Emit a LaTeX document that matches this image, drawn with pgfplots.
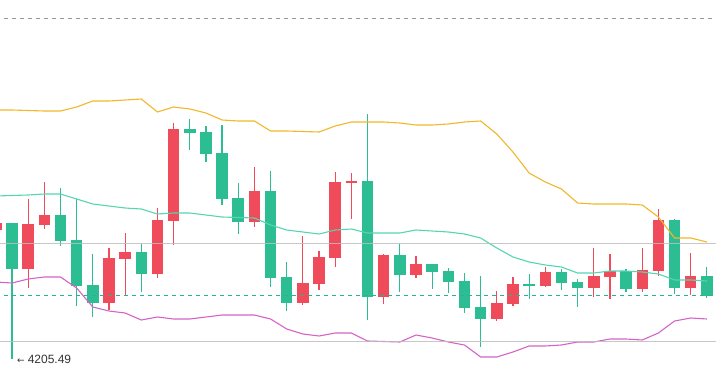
\documentclass[border=0pt]{standalone}
\usepackage{pgfplots}
\pgfplotsset{compat=1.18}
\usepackage{pgfplotstable}
\usepackage{fontspec}
\setmainfont{Liberation Sans}
\newfontfamily\djv{DejaVu Sans}
\definecolor{cgreen}{HTML}{2DBD92}
\definecolor{cred}{HTML}{EF4B5B}
\definecolor{cup}{HTML}{F2B72A}
\definecolor{cmid}{HTML}{55D6B2}
\definecolor{clow}{HTML}{D563C6}
\definecolor{cgrid}{HTML}{BDBDBD}
\definecolor{cdash}{HTML}{2AB094}

\pgfplotstableread{
x top bot hi lo
0 223 269 223 359
3 215 241 188 246
4 240 286 199 306
5 285 303 254 317
8 252 274 244 292
11 129 133 119 150
12 132 154 126 162
13 153 199 125 205
14 198 222 183 234
16 191 278 171 287
17 277 303 262 311
22 181 297 114 320
24 255 275 244 292
26 264 272 264 289
27 271 282 268 293
28 281 308 273 313
29 307 319 276 347
32 284 286 274 299
34 272 283 269 290
35 282 288 279 307
38 271 289 269 292
41 220 288 219 294
43 276 296 267 298
}\greentab

\pgfplotstableread{
x top bot hi lo
-1 223 230 223 230
1 224 269 199 288
2 215 225 182 229
6 258 303 248 310
7 252 259 233 295
9 220 274 208 278
10 129 221 123 245
15 191 222 167 227
18 283 303 236 305
19 257 284 251 290
20 182 258 172 267
21 181 183 173 219
23 255 297 254 304
25 264 275 256 278
30 303 319 291 321
31 284 304 277 306
33 272 286 267 287
36 276 288 248 297
37 271 277 254 299
39 270 289 248 292
40 220 271 209 276
42 276 288 253 295
}\redtab

\pgfplotstableread{
x up mid low
-1 110 196 282
0 110 195.5 283
1 110.5 195 279
2 111 194 277
3 111 194 277
4 107 199 288
5 101 204 307
6 101 206 311
7 100 208 313
8 99 209 320
9 112 214 317
10 107 213 319
11 109 213 319
12 113 215 317
13 120 217 315
14 121 217.5 315
15 121 218 315
16 131 225 319
17 131 230 329
18 131.5 232 334
19 132 234 336
20 126 230 333
21 122 229 333
22 122 233 341
23 122 233 341.5
24 123 233 342
25 125 230 335
26 125 231 338
27 124 232 342
28 122 234 345
29 121 238 357
30 134 248 357
31 152 257 352
32 173 262 346
33 182 265 346
34 189 267 345
35 203 273 342
36 204 273 342
37 204 271 339
38 204 271 339
39 205 272 340
40 217 274 333
41 238 280 321
42 238 280 318
43 242 281 319
}\bandtab

\begin{document}
\begin{tikzpicture}
\useasboundingbox (0,0) rectangle (716bp,383bp);
\begin{axis}[at={(0,0)}, anchor=south west,
  width=716bp, height=383bp, scale only axis, hide axis,
  xmin=-0.7426, xmax=43.564, ymin=0, ymax=383, y dir=reverse, clip=true]

% wicks
\addplot[draw=none, mark=none, forget plot,
  error bars/.cd, y dir=plus, y explicit, error mark=none,
  error bar style={draw=cgreen, line width=1.2bp}]
  table[x=x, y=hi, y error expr=\thisrow{lo}-\thisrow{hi}] {\greentab};
\addplot[draw=none, mark=none, forget plot,
  error bars/.cd, y dir=plus, y explicit, error mark=none,
  error bar style={draw=cred, line width=1.2bp}]
  table[x=x, y=hi, y error expr=\thisrow{lo}-\thisrow{hi}] {\redtab};
% bodies
\addplot[draw=none, mark=none, forget plot,
  error bars/.cd, y dir=both, y explicit, error mark=none,
  error bar style={draw=cgreen, line width=11.5bp, line cap=butt}]
  table[x=x, y expr=(\thisrow{top}+\thisrow{bot})/2, y error expr=(\thisrow{bot}-\thisrow{top})/2] {\greentab};
\addplot[draw=none, mark=none, forget plot,
  error bars/.cd, y dir=both, y explicit, error mark=none,
  error bar style={draw=cred, line width=11.5bp, line cap=butt}]
  table[x=x, y expr=(\thisrow{top}+\thisrow{bot})/2, y error expr=(\thisrow{bot}-\thisrow{top})/2] {\redtab};

% bands
\addplot[cup, line width=1.1bp, mark=none] table[x=x, y=up] {\bandtab};
\addplot[cmid, line width=1.1bp, mark=none] table[x=x, y=mid] {\bandtab};
\addplot[clow, line width=1.1bp, mark=none] table[x=x, y=low] {\bandtab};

% horizontal lines
\addplot[color=black!40, line width=0.9bp, dash pattern=on 4bp off 4bp, mark=none] coordinates {(-1,18) (44,18)};
\addplot[cgrid, opacity=0.85, line width=1bp, mark=none] coordinates {(-1,243) (44,243)};
\addplot[cdash, line width=1bp, dash pattern=on 4bp off 4bp, mark=none] coordinates {(-1,295) (44,295)};
\addplot[cgrid, opacity=0.85, line width=1bp, mark=none] coordinates {(-1,341) (44,341)};

\node[anchor=base west, inner sep=0pt, text=black!80] at (axis cs:0.31,363)
  {{\djv\fontsize{9bp}{9bp}\selectfont ←}\hspace{3bp}{\fontsize{12bp}{14bp}\selectfont 4205.49}};
\end{axis}
\end{tikzpicture}
\end{document}
